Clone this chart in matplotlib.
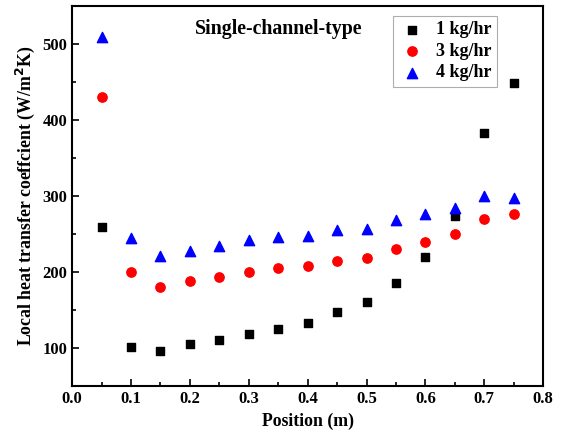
import matplotlib.pyplot as plt
from matplotlib.ticker import MultipleLocator

plt.rcParams['font.family'] = ['Liberation Serif', 'DejaVu Serif']
plt.rcParams['font.weight'] = 'bold'

# Position along the channel (m)
position = [0.05, 0.10, 0.15, 0.20, 0.25, 0.30, 0.35, 0.40,
            0.45, 0.50, 0.55, 0.60, 0.65, 0.70, 0.75]

# Local heat transfer coefficient (W/m^2K)
h_1kg = [259, 101, 96, 105, 110, 118, 125, 133, 147, 161, 186, 220, 274, 383, 449]
h_3kg = [430, 200, 180, 188, 193, 200, 205, 208, 215, 218, 230, 240, 250, 270, 276]
h_4kg = [509, 245, 221, 227, 234, 242, 246, 247, 255, 257, 268, 276, 284, 300, 297]

fig = plt.figure(figsize=(5.64, 4.40), dpi=100)
ax = fig.add_axes([0.128, 0.123, 0.835, 0.863])

ax.scatter(position, h_1kg, marker='s', s=40, color='black', label='1 kg/hr')
ax.scatter(position, h_3kg, marker='o', s=45, color='red', label='3 kg/hr')
ax.scatter(position, h_4kg, marker='^', s=55, color='blue', label='4 kg/hr')

ax.set_xlim(0.0, 0.8)
ax.set_ylim(50, 550)
ax.xaxis.set_major_locator(MultipleLocator(0.1))
ax.xaxis.set_minor_locator(MultipleLocator(0.05))
ax.yaxis.set_major_locator(MultipleLocator(100))
ax.yaxis.set_minor_locator(MultipleLocator(50))
ax.tick_params(which='both', direction='in', labelsize=12, width=1.2)
ax.tick_params(which='major', length=5)
ax.tick_params(which='minor', length=3)
for s in ax.spines.values():
    s.set_linewidth(1.5)

ax.set_xlabel('Position (m)', fontsize=12.8, fontweight='bold')
ax.set_ylabel('Local heat transfer coeffcient (W/m$^\\mathbf{2}$K)', fontsize=12.8, fontweight='bold')

ax.text(0.261, 0.965, 'Single-channel-type', transform=ax.transAxes,
        fontsize=14.3, fontweight='bold', va='top')

leg = ax.legend(loc='upper right', bbox_to_anchor=(0.902, 0.974), borderaxespad=0,
                fontsize=13, frameon=True, fancybox=False, edgecolor='#999999',
                handletextpad=0.6, borderpad=0.3, labelspacing=0.25, handlelength=1.5)
leg.get_frame().set_linewidth(0.8)

fig.savefig('out.png', dpi=100)
